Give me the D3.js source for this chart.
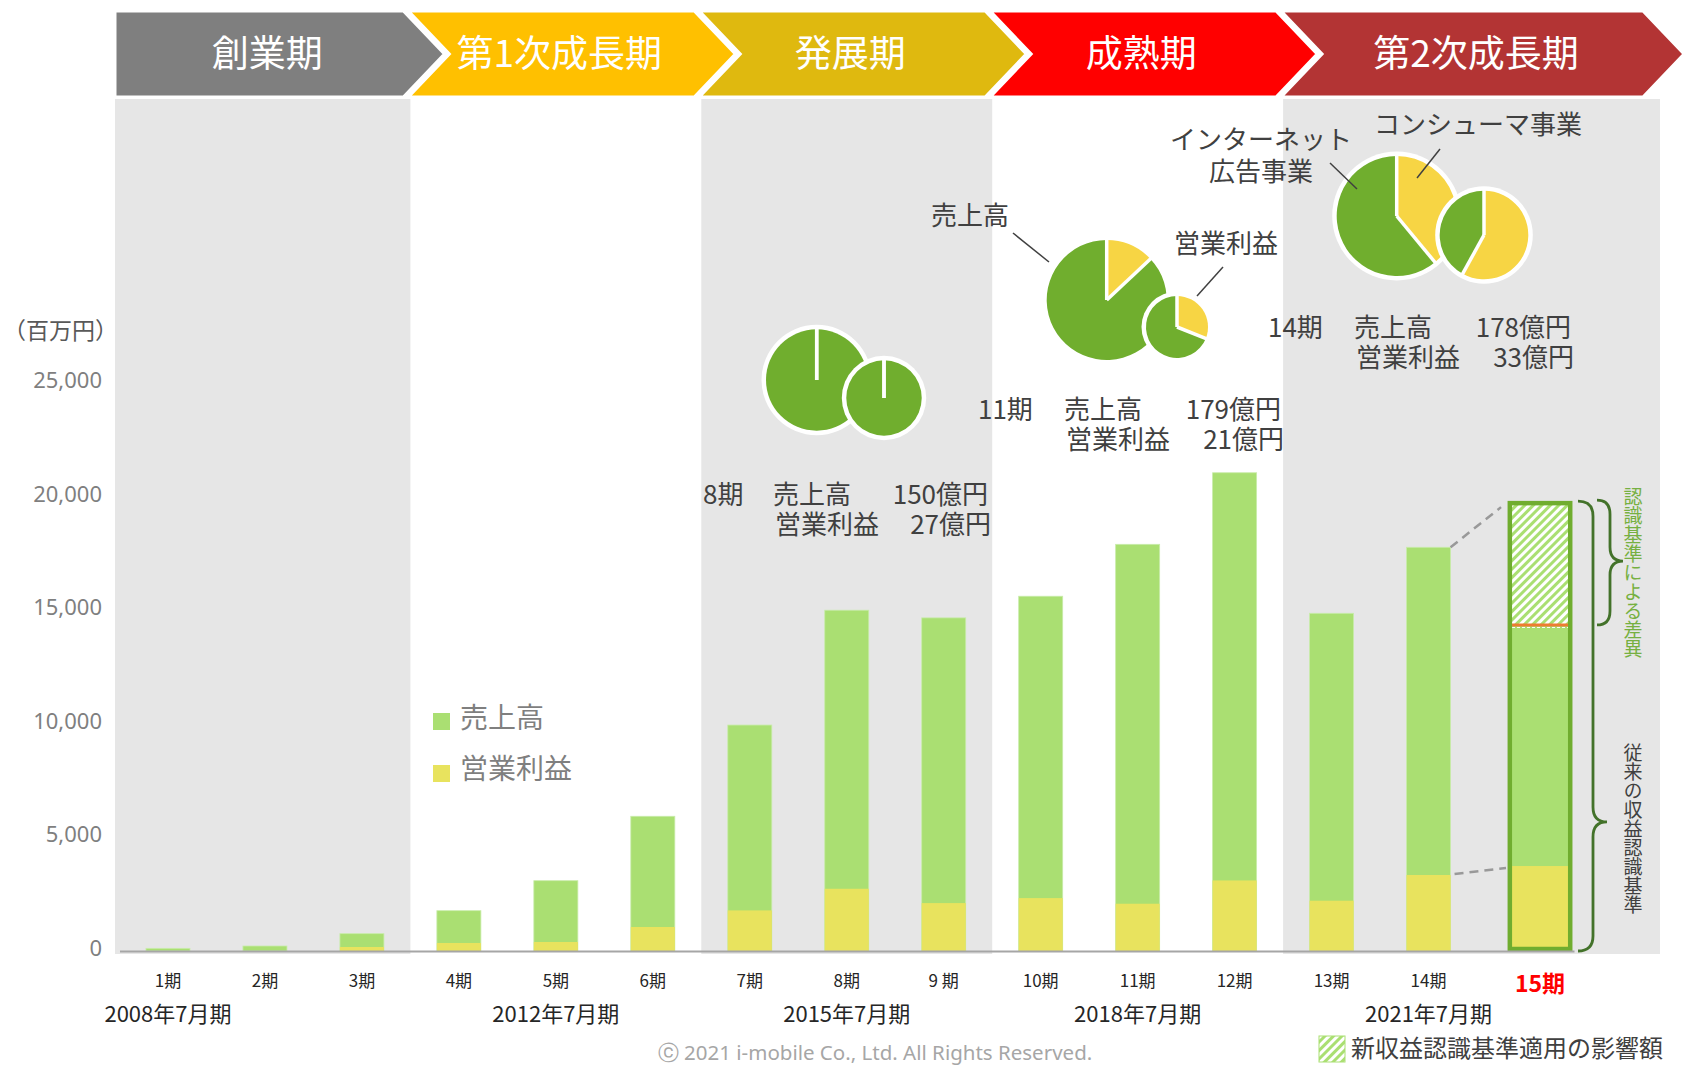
<!DOCTYPE html>
<html><head><meta charset="utf-8">
<script src="https://cdn.jsdelivr.net/npm/d3@7"></script>
<style>
body{margin:0;background:#fff}
svg{display:block}
text{font-family:"Noto Sans CJK JP","Noto Sans",sans-serif}
</style>
</head><body>
<svg id="c" width="1684" height="1068"></svg>
<script>
// ---------------- data ----------------
const periods = ["1期","2期","3期","4期","5期","6期","7期","8期","9期","10期","11期","12期","13期","14期","15期"];
const periodTickLabels = ["1期","2期","3期","4期","5期","6期","7期","8期","9 期","10期","11期","12期","13期","14期","15期"];
const sales = [117,220,763,1775,3095,5930,9946,15000,14663,15615,17900,21050,14864,17770,14350];
const operatingProfit = [0,0,176,352,396,1056,1787,2739,2109,2329,2080,3105,2214,3345,3740];
const sales15PriorStandard = 19800;
const yTicks = [0,5000,10000,15000,20000,25000];
const phaseNames = ["創業期","第1次成長期","発展期","成熟期","第2次成長期"];
const phaseFirst = ["1期","4期","7期","10期","13期"];
const phaseLast = ["3期","6期","9期","12期","15期"];
const fiscalYearLabels = ["2008年7月期","2012年7月期","2015年7月期","2018年7月期","2021年7月期"];
const fiscalYearPeriods = ["1期","5期","8期","11期","14期"];
const piePeriods = ["8期","11期","14期"];
const pieSalesOku = [150,179,178];
const pieOpOku = [27,21,33];
const pieSalesConsumerShare = [0,0.13,0.39];
const pieOpConsumerShare = [0,0.31,0.58];

// ---------------- layout / style ----------------
const C = {
  band:"#e6e6e6", barGreen:"#aadf72", barYellow:"#e8e35e",
  pieGreen:"#70ae2e", pieYellow:"#f7d544", text:"#404040",
  arrows:["#7f7f7f","#ffc000","#dfb90f","#ff0000","#b33434"]
};
const svg = d3.select("#c");
const x = d3.scaleBand().domain(periods).range([119.5,1574]).paddingInner(0.546).paddingOuter(0.273);
const y = d3.scaleLinear().domain([0,25000]).range([951,383]);
const step = x.step(), bw = x.bandwidth();
const slotStart = p => x(p) - (step-bw)/2;
const slotEnd = p => slotStart(p) + step;
const cx = p => x(p) + bw/2;

// defs: hatch pattern
const defs = svg.append("defs");
const pat = defs.append("pattern").attr("id","hatch").attr("patternUnits","userSpaceOnUse")
  .attr("width",6).attr("height",6).attr("patternTransform","rotate(45)");
pat.append("rect").attr("width",6).attr("height",6).attr("fill","#ffffff");
pat.append("rect").attr("width",3).attr("height",6).attr("fill",C.barGreen);

// ---------------- phase bands ----------------
phaseNames.forEach((n,i)=>{
  if(i%2!==0) return;
  const x0 = i===0 ? 115 : slotStart(phaseFirst[i]);
  const x1 = i===phaseNames.length-1 ? 1660 : slotEnd(phaseLast[i]);
  svg.append("rect").attr("x",x0).attr("y",99).attr("width",x1-x0).attr("height",855).attr("fill",C.band);
});

// ---------------- phase arrows ----------------
const aTop=11, aBot=97, aMid=54, aD=41;
phaseNames.forEach((n,i)=>{
  const L = i===0 ? 115 : slotStart(phaseFirst[i]) - 2;
  const R = i===phaseNames.length-1 ? 1643 : slotEnd(phaseLast[i]) - 7;
  const pts = i===0
    ? [[L,aTop],[R,aTop],[R+aD,aMid],[R,aBot],[L,aBot]]
    : [[L,aTop],[R,aTop],[R+aD,aMid],[R,aBot],[L,aBot],[L+aD,aMid]];
  svg.append("polygon").attr("points",pts.map(p=>p.join(",")).join(" "))
    .attr("fill",C.arrows[i]).attr("stroke","#fff").attr("stroke-width",3).attr("stroke-linejoin","miter");
  svg.append("text").attr("x",(L+R)/2+8+(i===4?6:0)).attr("y",aMid).attr("dy","0.36em")
    .attr("text-anchor","middle").attr("fill","#fff").attr("font-size",37).text(n);
});

// ---------------- y axis ----------------
const yAxis = svg.append("g").attr("transform","translate(102,0)")
  .call(d3.axisLeft(y).tickValues(yTicks).tickSize(0).tickPadding(0).tickFormat(d3.format(",")));
yAxis.select(".domain").remove();
yAxis.selectAll("text").attr("fill","#7f7f7f").attr("font-size",22).attr("dy","0.2em")
  .style("font-family","'Noto Sans','Open Sans',sans-serif");
svg.append("text").attr("x",3).attr("y",331).attr("dy","0.35em").attr("fill","#595959")
  .attr("font-size",23).text("（百万円）");

// ---------------- bars ----------------
const last = periods[periods.length-1];
const bars = svg.append("g");
periods.forEach((p,i)=>{
  if(p===last) return;
  bars.append("rect").attr("x",x(p)).attr("y",y(sales[i])).attr("width",bw).attr("height",y(0)-y(sales[i]))
    .attr("fill",C.barGreen).attr("stroke","#c9ecab").attr("stroke-width",0.8);
  if(operatingProfit[i]>0)
    bars.append("rect").attr("x",x(p)).attr("y",y(operatingProfit[i])).attr("width",bw).attr("height",y(0)-y(operatingProfit[i]))
      .attr("fill",C.barYellow);
});
// 15期 (new revenue recognition standard)
const i15 = periods.length-1;
const c15 = cx(last) + 14.5, w15 = 56;
const g15 = svg.append("g");
g15.append("rect").attr("x",c15-w15/2).attr("y",y(sales15PriorStandard)).attr("width",w15)
  .attr("height",y(sales[i15])-y(sales15PriorStandard)).attr("fill","url(#hatch)");
g15.append("rect").attr("x",c15-w15/2).attr("y",y(sales[i15])).attr("width",w15)
  .attr("height",y(0)-y(sales[i15])).attr("fill",C.barGreen);
g15.append("rect").attr("x",c15-w15/2).attr("y",y(operatingProfit[i15])).attr("width",w15)
  .attr("height",y(0)-y(operatingProfit[i15])).attr("fill",C.barYellow);
g15.append("line").attr("x1",c15-w15/2).attr("x2",c15+w15/2).attr("y1",y(sales[i15])+2.5).attr("y2",y(sales[i15])+2.5)
  .attr("stroke","#fff").attr("stroke-width",1).attr("stroke-dasharray","3,2");
g15.append("line").attr("x1",c15-w15/2).attr("x2",c15+w15/2).attr("y1",y(sales[i15])).attr("y2",y(sales[i15]))
  .attr("stroke","#ed7d31").attr("stroke-width",3);
g15.append("rect").attr("x",c15-w15/2-2.2).attr("y",y(sales15PriorStandard)+2).attr("width",w15+4.4)
  .attr("height",y(0)-y(sales15PriorStandard)-4).attr("fill","none").attr("stroke","#70ad2f").attr("stroke-width",4.5);

// dashed connectors 14期 -> 15期
const p14 = periods[i15-1];
svg.append("line").attr("x1",x(p14)+bw).attr("y1",y(sales[i15-1])).attr("x2",c15-w15/2-11).attr("y2",y(sales15PriorStandard)+6)
  .attr("stroke","#999").attr("stroke-width",2.5).attr("stroke-dasharray","9,6");
svg.append("line").attr("x1",x(p14)+bw+4).attr("y1",y(operatingProfit[i15-1])-1).attr("x2",c15-w15/2-6).attr("y2",y(operatingProfit[i15])+2)
  .attr("stroke","#999").attr("stroke-width",2.5).attr("stroke-dasharray","9,6");

// ---------------- x axis ----------------
const xAxis = svg.append("g").attr("transform",`translate(0,${y(0)})`)
  .call(d3.axisBottom(x).tickSize(0).tickFormat((d,i)=>periodTickLabels[i]));
xAxis.select(".domain").attr("stroke","#a6a6a6").attr("stroke-width",2);
xAxis.selectAll(".tick text").attr("y",30).attr("dy","0.35em").attr("fill","#262626").attr("font-size",17);
xAxis.selectAll(".tick").filter(d=>d===last).select("text")
  .attr("x",14.5).attr("y",33).attr("fill","#ff0000").attr("font-size",23).attr("font-weight","bold");

fiscalYearLabels.forEach((t,i)=>{
  svg.append("text").attr("x",cx(fiscalYearPeriods[i])).attr("y",1014).attr("dy","0.35em")
    .attr("text-anchor","middle").attr("fill","#262626").attr("font-size",22).text(t);
});

// ---------------- brackets ----------------
function brace(xEnd, xLine, xTip, y0, y1, yTip, r){
  return `M${xEnd},${y0} Q${xLine},${y0} ${xLine},${y0+r} L${xLine},${yTip-r} Q${xLine},${yTip} ${xTip},${yTip} `+
         `Q${xLine},${yTip} ${xLine},${yTip+r} L${xLine},${y1-r} Q${xLine},${y1} ${xEnd},${y1}`;
}
const yOld = y(sales15PriorStandard), yNew = y(sales[i15]), yZero = y(0);
svg.append("path").attr("d",brace(1578,1593,1607,yOld,yZero, yZero-(yZero-yOld)*0.287, 15))
  .attr("fill","none").attr("stroke","#43722a").attr("stroke-width",2.8);
svg.append("path").attr("d",brace(1597,1610,1623,yOld-1,yNew,(yOld+yNew)/2-2, 14))
  .attr("fill","none").attr("stroke","#43722a").attr("stroke-width",2.8);
svg.append("text").attr("x",1633).attr("y",487).style("writing-mode","vertical-rl")
  .attr("fill","#76b041").attr("font-size",19).text("認識基準による差異");
svg.append("text").attr("x",1633).attr("y",743).style("writing-mode","vertical-rl")
  .attr("fill",C.text).attr("font-size",19).text("従来の収益認識基準");

// ---------------- legends ----------------
const legItems = [["売上高",C.barGreen],["営業利益",C.barYellow]];
legItems.forEach((d,i)=>{
  svg.append("rect").attr("x",433).attr("y",713+i*52).attr("width",17).attr("height",17).attr("fill",d[1]);
  svg.append("text").attr("x",460).attr("y",718+i*51).attr("dy","0.35em").attr("fill","#7f7f7f")
    .attr("font-size",28).text(d[0]);
});
svg.append("rect").attr("x",1319).attr("y",1036).attr("width",26).attr("height",26).attr("fill","url(#hatch)")
  .attr("stroke","#aadf72").attr("stroke-width",1);
svg.append("text").attr("x",1351).attr("y",1049).attr("dy","0.35em").attr("fill",C.text).attr("font-size",24)
  .text("新収益認識基準適用の影響額");
svg.append("text").attr("x",875).attr("y",1053).attr("dy","0.35em").attr("text-anchor","middle")
  .attr("fill","#a6a6a6").attr("font-size",20.5).style("font-family","'Noto Sans','Open Sans',sans-serif")
  .text("ⓒ 2021 i-mobile Co., Ltd. All Rights Reserved.");

// ---------------- pies ----------------
const pieLayout = [
  {big:[816.7,380,50.7], small:[884,398,37.7], ty:495, x0:703, x1:773, xe:988},
  {big:[1106.7,300,60], small:[1177,327,31], ty:410, x0:978, x1:1064, xe:1281},
  {big:[1396.7,216,60], small:[1484,235,44.3], ty:328, x0:1268, x1:1354, xe:1571}
];
const pieGen = d3.pie().sort(null).value(d=>d);
function drawPie(cxp, cyp, r, share){
  const g = svg.append("g").attr("transform",`translate(${cxp},${cyp})`);
  g.append("circle").attr("r",r+4.5).attr("fill","#fff");
  const arcs = pieGen([share,1-share]);
  const arc = d3.arc().innerRadius(0).outerRadius(r);
  g.selectAll("path").data(arcs).join("path").attr("d",arc)
    .attr("fill",(d,i)=>i===0?C.pieYellow:C.pieGreen);
  arcs.forEach(a=>{
    g.append("line").attr("x1",0).attr("y1",0)
      .attr("x2",(r+1)*Math.sin(a.startAngle)).attr("y2",-(r+1)*Math.cos(a.startAngle))
      .attr("stroke","#fff").attr("stroke-width",3.5);
  });
}
piePeriods.forEach((p,i)=>{
  const L = pieLayout[i];
  drawPie(L.big[0],L.big[1],L.big[2],pieSalesConsumerShare[i]);
  drawPie(L.small[0],L.small[1],L.small[2],pieOpConsumerShare[i]);
  const t = svg.append("text").attr("fill",C.text).attr("font-size",26);
  const span = (tx,ty,s,anchor)=>t.append("tspan").attr("x",tx).attr("y",ty+9).attr("text-anchor",anchor).text(s);
  span(L.x0,L.ty,p,"start");
  span(L.x1,L.ty,"売上高","start");
  span(L.xe,L.ty,pieSalesOku[i]+"億円","end");
  span(L.x1+2,L.ty+30,"営業利益","start");
  span(L.xe+3,L.ty+30,pieOpOku[i]+"億円","end");
});

// pie callouts
const callouts = [
  {lines:["売上高"], x:970, y:216, l:[1013,233,1049,262]},
  {lines:["営業利益"], x:1226, y:244, l:[1223,267,1197,296]},
  {lines:["インターネット","広告事業"], x:1261, y:140, l:[1330,163,1357,189]},
  {lines:["コンシューマ事業"], x:1478, y:125, l:[1440,149,1417,178]}
];
callouts.forEach(c=>{
  const t = svg.append("text").attr("text-anchor","middle").attr("fill",C.text).attr("font-size",26);
  c.lines.forEach((s,j)=>t.append("tspan").attr("x",c.x).attr("y",c.y+j*32+9).text(s));
  svg.append("line").attr("x1",c.l[0]).attr("y1",c.l[1]).attr("x2",c.l[2]).attr("y2",c.l[3])
    .attr("stroke","#404040").attr("stroke-width",1.5);
});
</script>
</body></html>
